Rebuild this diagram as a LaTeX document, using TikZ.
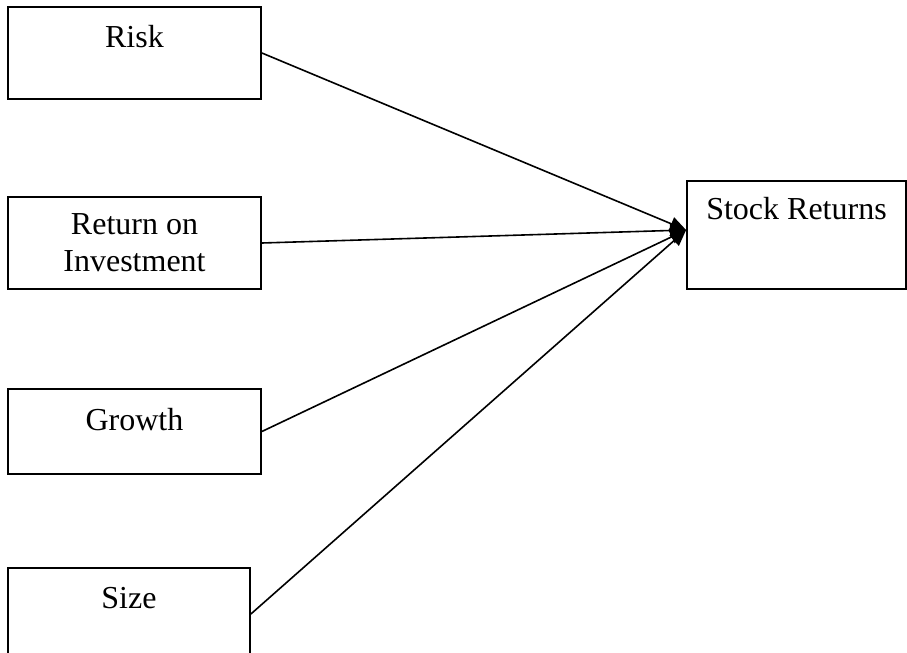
\documentclass[tikz,border=0pt]{standalone}
\usepackage{fontspec}
\setmainfont{Liberation Serif}
\usepackage{tikz}
\usetikzlibrary{arrows.meta,positioning}

\begin{document}
\begin{tikzpicture}[x=0.5pt,y=-0.5pt,
  font=\fontsize{16}{18.4}\selectfont,
  box/.style={draw,line width=0.9pt,inner sep=0pt,align=center},
  lift/.style={text height=11pt,text depth=#1},
  link/.style={line width=0.8pt,-{Triangle[length=8pt,width=7pt]}}]
  \useasboundingbox (0,0) rectangle (907,653);
  % facteurs
  \node[box,lift=16.5pt,minimum width=126.5pt,minimum height=46pt] (risk) at (134.5,53) {Risk};
  \node[box,minimum width=126.5pt,minimum height=46pt] (roi) at (134.5,243) {Return on\\Investment};
  \node[box,lift=12.5pt,minimum width=126.5pt,minimum height=42.5pt] (growth) at (134.5,431.5) {Growth};
  \node[box,lift=16.5pt,minimum width=121pt,minimum height=46pt] (size) at (129,614) {Size};
  % cible
  \node[box,lift=26pt,minimum width=109.5pt,minimum height=54pt] (ret) at (796.5,235) {Stock Returns};
  \foreach \n in {risk,roi,growth,size}
    \draw[link] (\n.east) -- ([yshift=2.5pt]ret.west);
\end{tikzpicture}
\end{document}
